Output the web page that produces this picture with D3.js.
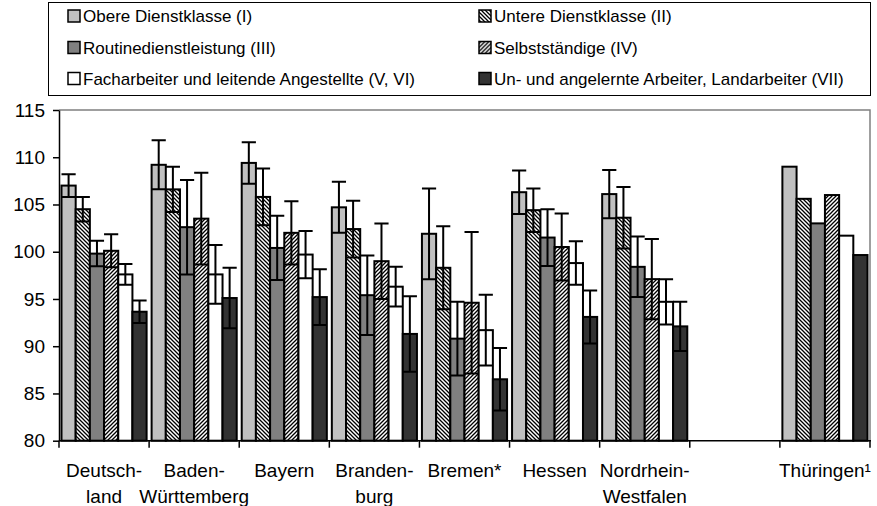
<!DOCTYPE html>
<html>
<head>
<meta charset="utf-8">
<script src="https://cdn.jsdelivr.net/npm/d3@7"></script>
<style>
  html, body { margin: 0; padding: 0; background: #fff; }
  svg { display: block; font-family: "Liberation Sans", Arial, sans-serif; }
</style>
</head>
<body>
<svg id="chart" width="877" height="506"></svg>
<script>
// ---- data ----
const categories = ["Deutschland", "Baden-Württemberg", "Bayern", "Brandenburg", "Bremen*", "Hessen", "Nordrhein-Westfalen", "", "Thüringen¹"];
const categoryLabelLines = [["Deutsch-", "land"], ["Baden-", "Württemberg"], ["Bayern"], ["Branden-", "burg"], ["Bremen*"], ["Hessen"], ["Nordrhein-", "Westfalen"], [""], ["Thüringen¹"]];
const seriesNames = ["Obere Dienstklasse (I)", "Untere Dienstklasse (II)", "Routinedienstleistung (III)", "Selbstständige (IV)", "Facharbeiter und leitende Angestellte (V, VI)", "Un- und angelernte Arbeiter, Landarbeiter (VII)"];
const valuesI   = [107.0, 109.2, 109.4, 104.7, 101.9, 106.3, 106.1, null, 109.0];
const valuesII  = [104.5, 106.6, 105.8, 102.4, 98.3, 104.4, 103.6, null, 105.6];
const valuesIII = [99.8, 102.6, 100.4, 95.4, 90.8, 101.5, 98.4, null, 103.0];
const valuesIV  = [100.1, 103.5, 102.0, 99.0, 94.6, 100.5, 97.1, null, 106.0];
const valuesV   = [97.6, 97.6, 99.7, 96.3, 91.7, 98.8, 94.7, null, 101.7];
const valuesVII = [93.65, 95.1, 95.2, 91.3, 86.5, 93.1, 92.1, null, 99.65];
const errI   = [1.2, 2.6, 2.2, 2.7, 4.8, 2.3, 2.55, null, null];
const errII  = [1.3, 2.4, 3.0, 3.0, 4.4, 2.3, 3.25, null, null];
const errIII = [1.35, 5.0, 3.4, 4.2, 3.9, 3.0, 3.2, null, null];
const errIV  = [1.75, 4.85, 3.35, 4.0, 7.5, 3.55, 4.25, null, null];
const errV   = [1.1, 3.1, 2.5, 2.1, 3.75, 2.3, 2.4, null, null];
const errVII = [1.2, 3.2, 2.95, 4.0, 3.3, 2.8, 2.6, null, null];
const yTicks = [80, 85, 90, 95, 100, 105, 110, 115];

const seriesValues = [valuesI, valuesII, valuesIII, valuesIV, valuesV, valuesVII];
const seriesErrors = [errI, errII, errIII, errIV, errV, errVII];
const seriesFills = ["#c0c0c0", "url(#hatchBack)", "#808080", "url(#hatchFwd)", "#ffffff", "#333333"];

// ---- layout ----
const svg = d3.select("#chart");
const plot = { left: 59, right: 870, top: 110, bottom: 440.7 };

const defs = svg.append("defs");
const back = defs.append("pattern").attr("id", "hatchBack").attr("patternUnits", "userSpaceOnUse")
  .attr("width", 4).attr("height", 4);
back.append("rect").attr("width", 4).attr("height", 4).attr("fill", "#fff");
back.append("path").attr("d", "M-1,-1L5,5M3,-1L5,1M-1,3L1,5").attr("stroke", "#000").attr("stroke-width", 1.3);
const fwd = defs.append("pattern").attr("id", "hatchFwd").attr("patternUnits", "userSpaceOnUse")
  .attr("width", 4).attr("height", 4);
fwd.append("rect").attr("width", 4).attr("height", 4).attr("fill", "#fff");
fwd.append("path").attr("d", "M-1,5L5,-1M-1,1L1,-1M3,5L5,3").attr("stroke", "#000").attr("stroke-width", 1.3);

const x0 = d3.scaleBand().domain(d3.range(categories.length)).range([plot.left, plot.right]).padding(0);
const x1 = d3.scaleBand().domain(d3.range(seriesNames.length)).range([2.5, x0.bandwidth() - 2.5]).padding(0);
const y = d3.scaleLinear().domain([80, 115]).range([plot.bottom, plot.top]);

// plot frame (top/right gray)
svg.append("path")
  .attr("d", `M${plot.left},${plot.top}H${plot.right}V${plot.bottom}`)
  .attr("fill", "none").attr("stroke", "#808080").attr("stroke-width", 1.5);

// bars
const barData = [];
seriesValues.forEach((vals, s) => vals.forEach((v, c) => {
  if (v !== null) barData.push({ s, c, v, e: seriesErrors[s][c] });
}));
svg.append("g").selectAll("rect").data(barData).join("rect")
  .attr("x", d => x0(d.c) + x1(d.s))
  .attr("y", d => y(d.v))
  .attr("width", x1.bandwidth())
  .attr("height", d => y(80) - y(d.v))
  .attr("fill", d => seriesFills[d.s])
  .attr("stroke", "#000").attr("stroke-width", 2);

// error bars
const eb = svg.append("g").attr("stroke", "#000").attr("stroke-width", 2).attr("fill", "none");
barData.filter(d => d.e !== null).forEach(d => {
  const cx = x0(d.c) + x1(d.s) + x1.bandwidth() / 2;
  const hw = x1.bandwidth() / 2;
  const yHi = y(d.v + d.e), yLo = y(d.v - d.e);
  eb.append("path").attr("d", `M${cx},${yHi}V${yLo}M${cx - hw},${yHi}H${cx + hw}M${cx - hw},${yLo}H${cx + hw}`);
});

// y axis
const yAxis = svg.append("g").attr("transform", `translate(${plot.left},0)`)
  .call(d3.axisLeft(y).tickValues(yTicks).tickSize(6).tickSizeOuter(0).tickPadding(8));
yAxis.select(".domain").attr("stroke", "#000").attr("stroke-width", 1.5);
yAxis.selectAll(".tick line").attr("stroke", "#000").attr("stroke-width", 1.5);
yAxis.selectAll(".tick text").attr("font-size", 19).attr("fill", "#000")
  .attr("font-family", "Liberation Sans, Arial, sans-serif");

// x axis
const xAxis = svg.append("g").attr("transform", `translate(0,${plot.bottom})`);
xAxis.append("line").attr("x1", plot.left).attr("x2", plot.right + 1).attr("stroke", "#000").attr("stroke-width", 1.5);
const boundaries = d3.range(categories.length + 1).map(i => i < categories.length ? x0(i) : x0(i - 1) + x0.bandwidth());
xAxis.selectAll("line.tk").data(boundaries).join("line").attr("class", "tk")
  .attr("x1", d => d).attr("x2", d => d).attr("y1", 0).attr("y2", 7)
  .attr("stroke", "#000").attr("stroke-width", 1.5);
const labels = svg.append("g").attr("font-size", 19).attr("fill", "#000").attr("text-anchor", "middle");
categoryLabelLines.forEach((lines, c) => {
  lines.forEach((ln, i) => {
    labels.append("text")
      .attr("x", x0(c) + x0.bandwidth() / 2)
      .attr("y", 477 + i * 26)
      .text(ln);
  });
});

// legend
const legend = svg.append("g");
legend.append("rect").attr("x", 48.5).attr("y", 2.5).attr("width", 822).attr("height", 93)
  .attr("fill", "#fff").attr("stroke", "#000").attr("stroke-width", 1);
const legCols = [68, 479];
const legRows = [16, 47.5, 78.5];
seriesNames.forEach((name, i) => {
  const col = i % 2, row = Math.floor(i / 2);
  const g = legend.append("g").attr("transform", `translate(${legCols[col]},${legRows[row]})`);
  g.append("rect").attr("x", 0).attr("y", -6).attr("width", 12).attr("height", 12)
    .attr("fill", seriesFills[i]).attr("stroke", "#000").attr("stroke-width", 1.5);
  g.append("text").attr("x", 15).attr("y", 6).attr("font-size", 17).attr("fill", "#000").text(name);
});
</script>
</body>
</html>
